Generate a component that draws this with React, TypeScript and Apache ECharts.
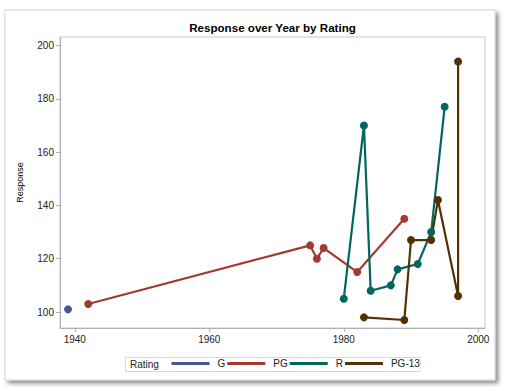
import React, { useEffect, useRef } from "react";
import * as echarts from "echarts";

const ratings = ["G", "PG", "R", "PG-13"];
const colors = ["#445694", "#A23A2E", "#01665E", "#543005"];

const gData: [number, number][] = [[1939, 101]];
const pgData: [number, number][] = [
  [1942, 103], [1975, 125], [1976, 120], [1977, 124], [1982, 115], [1989, 135],
];
const rData: [number, number][] = [
  [1980, 105], [1983, 170], [1984, 108], [1987, 110], [1988, 116], [1991, 118], [1993, 130], [1995, 177],
];
const pg13Data: [number, number][] = [
  [1983, 98], [1989, 97], [1990, 127], [1993, 127], [1994, 142], [1997, 106], [1997, 194],
];

const xTicks = [1940, 1960, 1980, 2000];
const yTicks = [100, 120, 140, 160, 180, 200];

const FONT = "Liberation Sans";

export default function App() {
  const ref = useRef<HTMLDivElement>(null);
  useEffect(() => {
    const chart = echarts.init(ref.current!, undefined, { renderer: "svg" });
    const allData = [gData, pgData, rData, pg13Data];
    chart.setOption({
      animation: false,
      textStyle: { fontFamily: FONT },
      graphic: [
        {
          type: "rect",
          z: -10,
          shape: { x: 5, y: 10, width: 490, height: 370 },
          style: {
            fill: "#fff",
            stroke: "#d4d4d4",
            lineWidth: 1,
            shadowBlur: 4,
            shadowOffsetX: 3,
            shadowOffsetY: 3,
            shadowColor: "rgba(0,0,0,0.45)",
          },
        },
        {
          type: "text",
          x: 272.5,
          y: 27,
          style: {
            text: "Response over Year by Rating",
            font: `bold 11.6px "${FONT}"`,
            fill: "#000",
            align: "center",
            verticalAlign: "middle",
          },
        },
        {
          type: "rect",
          z: -5,
          shape: { x: 125.5, y: 357.5, width: 294.5, height: 14 },
          style: { fill: "#fff", stroke: "#d8d8d8", lineWidth: 1 },
        },
        {
          type: "text",
          x: 130,
          y: 364.5,
          style: {
            text: "Rating",
            font: `10px "${FONT}"`,
            fill: "#222",
            verticalAlign: "middle",
          },
        },
      ],
      grid: {
        left: 60,
        right: 27,
        top: 37,
        bottom: 63,
        show: true,
        borderColor: "#c8c8c8",
        borderWidth: 1,
        backgroundColor: "transparent",
      },
      xAxis: {
        type: "value",
        min: 1937.8,
        max: 2001,
        splitLine: { show: false },
        axisLine: { show: true, lineStyle: { color: "#b0b0b0" } },
        axisTick: { show: true, length: 4, customValues: xTicks, lineStyle: { color: "#b0b0b0" } },
        axisLabel: {
          customValues: xTicks,
          formatter: (v: number) => String(v),
          color: "#222",
          fontSize: 10,
          fontFamily: FONT,
          margin: 6,
        },
      },
      yAxis: {
        type: "value",
        min: 94,
        max: 203.2,
        name: "Response",
        nameLocation: "middle",
        nameGap: 36,
        nameTextStyle: { color: "#000", fontSize: 9, fontFamily: FONT },
        splitLine: { show: false },
        axisLine: { show: true, lineStyle: { color: "#b0b0b0" } },
        axisTick: { show: true, length: 4, customValues: yTicks, lineStyle: { color: "#b0b0b0" } },
        axisLabel: {
          customValues: yTicks,
          color: "#222",
          fontSize: 10,
          fontFamily: FONT,
          margin: 6,
        },
      },
      legend: {
        left: 171.5,
        top: 358.5,
        icon: "rect",
        itemWidth: 38,
        itemHeight: 3,
        itemGap: 2,
        padding: 0,
        textStyle: { color: "#222", fontSize: 10, fontFamily: FONT, padding: [0, 0, 0, 3] },
        data: ratings,
      },
      series: ratings.map((name, i) => ({
        name,
        type: "line",
        data: allData[i],
        symbol: "circle",
        symbolSize: 8,
        showSymbol: true,
        color: colors[i],
        itemStyle: { color: colors[i] },
        lineStyle: { color: colors[i], width: 2.2 },
      })),
    });
    return () => chart.dispose();
  }, []);
  return (
    <div
      ref={ref}
      style={{ position: "fixed", left: 0, top: 0, width: 512, height: 391, background: "#fff" }}
    />
  );
}
